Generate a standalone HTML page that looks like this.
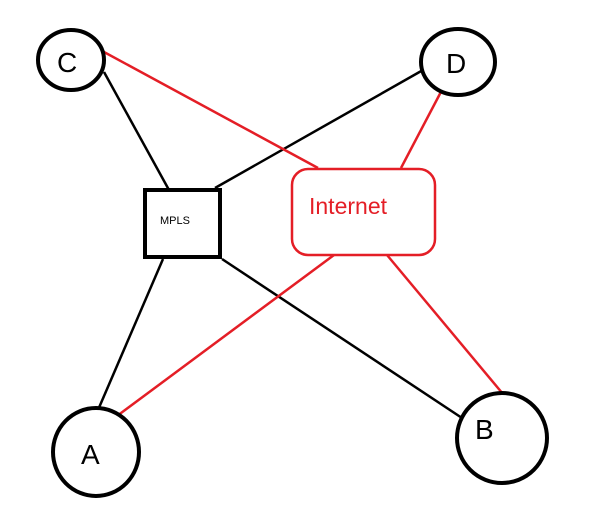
<!DOCTYPE html>
<html><head><style>body{margin:0;background:#fff}svg{display:block}</style></head><body>
<svg width="601" height="527" viewBox="0 0 601 527" xmlns="http://www.w3.org/2000/svg" font-family="Liberation Sans, sans-serif">
<g stroke="#000" stroke-width="2.5">
<line x1="104" y1="72" x2="169" y2="190"/>
<line x1="423" y1="70" x2="215" y2="188"/>
<line x1="222" y1="259" x2="462" y2="418"/>
<line x1="163" y1="259" x2="98" y2="410"/>
</g>
<g stroke="#e41e26" stroke-width="2.5">
<line x1="104" y1="52" x2="318" y2="168"/>
<line x1="443" y1="88" x2="401" y2="168"/>
<line x1="334" y1="255" x2="117" y2="416"/>
<line x1="387" y1="255" x2="503" y2="394"/>
</g>
<g fill="#fff" stroke="#000" stroke-width="4">
<ellipse cx="71" cy="60" rx="33" ry="30"/>
<ellipse cx="458" cy="62" rx="37" ry="33"/>
<ellipse cx="96" cy="452" rx="43" ry="44"/>
<ellipse cx="502" cy="438" rx="45" ry="45"/>
<rect x="145" y="190" width="75" height="67"/>
</g>
<rect x="292" y="169" width="143" height="86" rx="16" fill="#fff" stroke="#e41e26" stroke-width="2.5"/>
<g font-size="28" fill="#000">
<text x="57" y="72">C</text>
<text x="446" y="73">D</text>
<text x="81" y="464">A</text>
<text x="475" y="439">B</text>
</g>
<text x="160" y="224" font-size="11">MPLS</text>
<text x="309" y="214" font-size="23" fill="#e41e26">Internet</text>
</svg>
</body></html>
